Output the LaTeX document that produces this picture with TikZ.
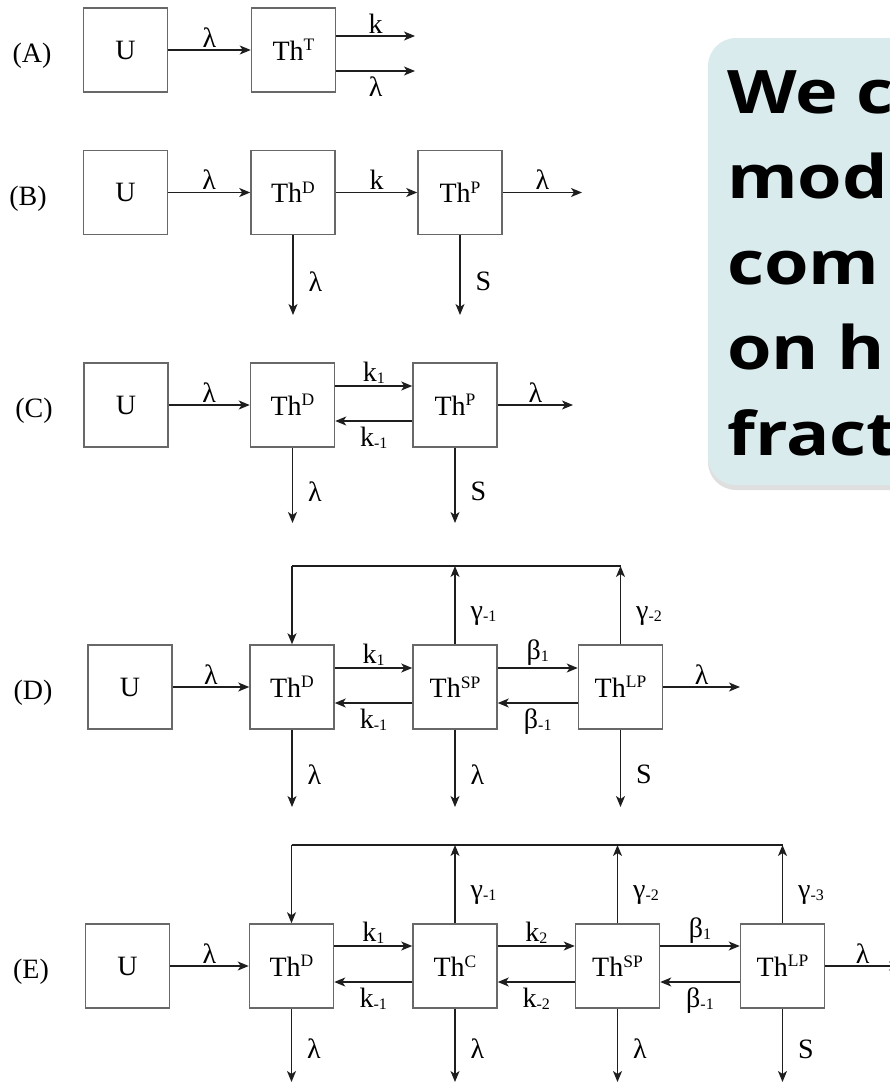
\documentclass[tikz,border=0pt]{standalone}
\usepackage{fontspec}
\setmainfont{Liberation Serif}
\newfontfamily\calloutfont{Open Sans}
\usetikzlibrary{arrows.meta,shadows}

\definecolor{boxgray}{HTML}{686868}
\definecolor{arrowblack}{HTML}{1E1E1E}
\definecolor{calloutfill}{HTML}{DAEBEE}

\newcommand\diagfont{\fontsize{28}{30}\selectfont}
\newcommand\hi[1]{\raisebox{9.5pt}{\fontsize{17.5}{17.5}\selectfont #1}}
\newcommand\lo[1]{\raisebox{-2pt}{\fontsize{16}{16}\selectfont #1}}
\newcommand\wide[1]{\scalebox{1.2}[1]{#1}}

\tikzset{
  box/.style={draw=boxgray, line width=1.5pt, minimum width=84pt, minimum height=84pt, inner sep=0pt, font=\diagfont},
  arr/.style={draw=arrowblack, line width=1.3pt, -{Stealth[length=11pt,width=9pt,inset=3pt]}},
  feed/.style={draw=arrowblack, line width=1.3pt},
  lbl/.style={font=\diagfont, inner sep=2pt},
  panel/.style={font=\diagfont, inner sep=0pt},
  callout/.style={font=\calloutfont\bfseries\fontsize{60}{60}\selectfont, inner sep=0pt, anchor=base west},
}

\begin{document}
\begin{tikzpicture}[x=1pt,y=-1pt]
\useasboundingbox (0,0) rectangle (890,1084);
\clip (0,0) rectangle (890,1084);

%% callout on the right
\fill[calloutfill, rounded corners=28pt, drop shadow={shadow xshift=0pt,shadow yshift=-5pt,opacity=.25}] (708,38) rectangle (950,485);
\node[callout] (c-1) at (727,113) {\wide{We c}};
\node[callout] (c-2) at (727,198) {\wide{mod}};
\node[callout] (c-3) at (727,284) {\wide{com}};
\node[callout] (c-4) at (727,369) {\wide{on h}};
\node[callout] (c-5) at (727,455) {\wide{fract}};

%% (A)
\node[panel] (A-lab) at (32,56) {(A)};
\node[box] (A-U) at (125.5,50) {U};
\node[box] (A-T) at (293.5,50) {Th\hi{T}};
\coordinate (A-k) at (415,36);
\coordinate (A-l) at (415,71);
\draw[arr] (A-U) -- node[lbl,above]{λ} (A-T);
\draw[arr] (A-k -| A-T.east) -- node[lbl,above]{k} (A-k);
\draw[arr] (A-l -| A-T.east) -- node[lbl,below=3pt]{λ} (A-l);

%% (B)
\node[panel] (B-lab) at (28,199) {(B)};
\node[box] (B-U) at (125.5,192.5) {U};
\node[box] (B-D) at (293,192.5) {Th\hi{D}};
\node[box] (B-P) at (460,192.5) {Th\hi{P}};
\coordinate (B-out) at (582,192.5);
\coordinate (B-bot) at (0,315);
\draw[arr] (B-U) -- node[lbl,above]{λ} (B-D);
\draw[arr] (B-D) -- node[lbl,above]{k} (B-P);
\draw[arr] (B-P) -- node[lbl,above]{λ} (B-out);
\draw[arr] (B-D) -- node[lbl,right=13pt,pos=.58]{λ} (B-D |- B-bot);
\draw[arr] (B-P) -- node[lbl,right=13pt,pos=.58]{S} (B-P |- B-bot);

%% (C)
\node[panel] (C-lab) at (34,411) {(C)};
\node[box] (C-U) at (126,405) {U};
\node[box] (C-D) at (292.5,405) {Th\hi{D}};
\node[box] (C-P) at (455,405) {Th\hi{P}};
\coordinate (C-fw) at (0,386);
\coordinate (C-bw) at (0,421);
\coordinate (C-out) at (573,405);
\coordinate (C-bot) at (0,523);
\draw[arr] (C-U) -- node[lbl,above]{λ} (C-D);
\draw[arr] (C-D.east |- C-fw) -- node[lbl,above]{k\lo{1}} (C-P.west |- C-fw);
\draw[arr] (C-P.west |- C-bw) -- node[lbl,below=3pt]{k\lo{-1}} (C-D.east |- C-bw);
\draw[arr] (C-P) -- node[lbl,above]{λ} (C-out);
\draw[arr] (C-D) -- node[lbl,right=13pt,pos=.58]{λ} (C-D |- C-bot);
\draw[arr] (C-P) -- node[lbl,right=13pt,pos=.58]{S} (C-P |- C-bot);

%% (D)
\node[panel] (D-lab) at (33,693) {(D)};
\node[box] (D-U) at (130,687) {U};
\node[box] (D-D) at (292,687) {Th\hi{D}};
\node[box] (D-SP) at (455,687) {Th\hi{SP}};
\node[box] (D-LP) at (620.5,687) {Th\hi{LP}};
\coordinate (D-top) at (0,566);
\coordinate (D-fw) at (0,668);
\coordinate (D-bw) at (0,703);
\coordinate (D-out) at (740,687);
\coordinate (D-bot) at (0,807);
\draw[arr] (D-U) -- node[lbl,above]{λ} (D-D);
\draw[arr] (D-D.east |- D-fw) -- node[lbl,above]{k\lo{1}} (D-SP.west |- D-fw);
\draw[arr] (D-SP.west |- D-bw) -- node[lbl,below=3pt]{k\lo{-1}} (D-D.east |- D-bw);
\draw[arr] (D-SP.east |- D-fw) -- node[lbl,above]{β\lo{1}} (D-LP.west |- D-fw);
\draw[arr] (D-LP.west |- D-bw) -- node[lbl,below=3pt]{β\lo{-1}} (D-SP.east |- D-bw);
\draw[arr] (D-LP) -- node[lbl,above]{λ} (D-out);
\draw[feed] (D-D.north |- D-top) -- (D-LP.north |- D-top);
\draw[arr] (D-D.north |- D-top) -- (D-D.north);
\draw[arr] (D-SP) -- node[lbl,right=13pt,pos=.36]{γ\lo{-1}} (D-SP |- D-top);
\draw[arr] (D-LP) -- node[lbl,right=13pt,pos=.36]{γ\lo{-2}} (D-LP |- D-top);
\draw[arr] (D-D) -- node[lbl,right=13pt,pos=.58]{λ} (D-D |- D-bot);
\draw[arr] (D-SP) -- node[lbl,right=13pt,pos=.58]{λ} (D-SP |- D-bot);
\draw[arr] (D-LP) -- node[lbl,right=13pt,pos=.58]{S} (D-LP |- D-bot);

%% (E)
\node[panel] (E-lab) at (31,972) {(E)};
\node[box] (E-U) at (127.5,966) {U};
\node[box] (E-D) at (291.5,966) {Th\hi{D}};
\node[box] (E-C) at (455,966) {Th\hi{C}};
\node[box] (E-SP) at (617.5,966) {Th\hi{SP}};
\node[box] (E-LP) at (782.5,966) {Th\hi{LP}};
\coordinate (E-top) at (0,845);
\coordinate (E-fw) at (0,946);
\coordinate (E-bw) at (0,982);
\coordinate (E-out) at (900,966);
\coordinate (E-bot) at (0,1082);
\draw[arr] (E-U) -- node[lbl,above]{λ} (E-D);
\draw[arr] (E-D.east |- E-fw) -- node[lbl,above]{k\lo{1}} (E-C.west |- E-fw);
\draw[arr] (E-C.west |- E-bw) -- node[lbl,below=3pt]{k\lo{-1}} (E-D.east |- E-bw);
\draw[arr] (E-C.east |- E-fw) -- node[lbl,above]{k\lo{2}} (E-SP.west |- E-fw);
\draw[arr] (E-SP.west |- E-bw) -- node[lbl,below=3pt]{k\lo{-2}} (E-C.east |- E-bw);
\draw[arr] (E-SP.east |- E-fw) -- node[lbl,above]{β\lo{1}} (E-LP.west |- E-fw);
\draw[arr] (E-LP.west |- E-bw) -- node[lbl,below=3pt]{β\lo{-1}} (E-SP.east |- E-bw);
\draw[arr] (E-LP) -- node[lbl,above]{λ} (E-out);
\draw[feed] (E-D.north |- E-top) -- (E-LP.north |- E-top);
\draw[arr] (E-D.north |- E-top) -- (E-D.north);
\draw[arr] (E-C) -- node[lbl,right=13pt,pos=.36]{γ\lo{-1}} (E-C |- E-top);
\draw[arr] (E-SP) -- node[lbl,right=13pt,pos=.36]{γ\lo{-2}} (E-SP |- E-top);
\draw[arr] (E-LP) -- node[lbl,right=13pt,pos=.36]{γ\lo{-3}} (E-LP |- E-top);
\draw[arr] (E-D) -- node[lbl,right=13pt,pos=.55]{λ} (E-D |- E-bot);
\draw[arr] (E-C) -- node[lbl,right=13pt,pos=.55]{λ} (E-C |- E-bot);
\draw[arr] (E-SP) -- node[lbl,right=13pt,pos=.55]{λ} (E-SP |- E-bot);
\draw[arr] (E-LP) -- node[lbl,right=13pt,pos=.55]{S} (E-LP |- E-bot);
\end{tikzpicture}
\end{document}
